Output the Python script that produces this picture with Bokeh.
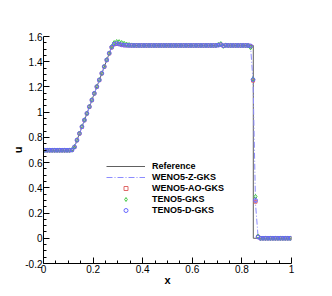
from bokeh.plotting import figure
from bokeh.models import Legend, LegendItem, FixedTicker
from bokeh.embed import file_html
from bokeh.resources import INLINE

# cell centres
x = [0.005, 0.015, 0.025, 0.035, 0.045, 0.055, 0.065, 0.075, 0.085, 0.095,
     0.105, 0.115, 0.125, 0.135, 0.145, 0.155, 0.165, 0.175, 0.185, 0.195,
     0.205, 0.215, 0.225, 0.235, 0.245, 0.255, 0.265, 0.275, 0.285, 0.295,
     0.305, 0.315, 0.325, 0.335, 0.345, 0.355, 0.365, 0.375, 0.385, 0.395,
     0.405, 0.415, 0.425, 0.435, 0.445, 0.455, 0.465, 0.475, 0.485, 0.495,
     0.505, 0.515, 0.525, 0.535, 0.545, 0.555, 0.565, 0.575, 0.585, 0.595,
     0.605, 0.615, 0.625, 0.635, 0.645, 0.655, 0.665, 0.675, 0.685, 0.695,
     0.705, 0.715, 0.725, 0.735, 0.745, 0.755, 0.765, 0.775, 0.785, 0.795,
     0.805, 0.815, 0.825, 0.835, 0.845, 0.855, 0.865, 0.875, 0.885, 0.895,
     0.905, 0.915, 0.925, 0.935, 0.945, 0.955, 0.965, 0.975, 0.985, 0.995]

ref_x = [0.0, 0.12, 0.277, 0.846, 0.846, 1.0]
ref_u = [0.698, 0.698, 1.529, 1.529, 0.0, 0.0]

u_wenoz = ([0.698] * 10 +
           [0.698, 0.700, 0.722, 0.776, 0.829, 0.882, 0.935, 0.988, 1.041, 1.094] +
           [1.147, 1.200, 1.253, 1.306, 1.359, 1.412, 1.465, 1.512, 1.537, 1.543] +
           [1.539, 1.533, 1.530, 1.529, 1.529, 1.529, 1.529, 1.529, 1.529, 1.529] +
           [1.529] * 30 +
           [1.532, 1.536, 1.526, 1.530, 1.529, 1.529, 1.529, 1.529, 1.529, 1.529] +
           [1.529, 1.529, 1.529, 1.520, 1.240, 0.270, 0.020, 0.0, 0.0, 0.0] +
           [0.0] * 10)

u_wenoao = ([0.698] * 10 +
            [0.698, 0.700, 0.723, 0.777, 0.830, 0.883, 0.936, 0.989, 1.042, 1.095] +
            [1.148, 1.201, 1.254, 1.307, 1.360, 1.413, 1.466, 1.513, 1.538, 1.544] +
            [1.540, 1.534, 1.531, 1.530, 1.529, 1.529, 1.529, 1.529, 1.529, 1.529] +
            [1.529] * 30 +
            [1.532, 1.537, 1.526, 1.530, 1.529, 1.529, 1.529, 1.529, 1.529, 1.529] +
            [1.529, 1.529, 1.529, 1.523, 1.250, 0.290, 0.012, 0.0, 0.0, 0.0] +
            [0.0] * 10)

u_teno = ([0.698] * 10 +
          [0.698, 0.701, 0.726, 0.779, 0.832, 0.885, 0.938, 0.991, 1.044, 1.097] +
          [1.150, 1.203, 1.256, 1.309, 1.362, 1.415, 1.468, 1.519, 1.550, 1.558] +
          [1.557, 1.550, 1.544, 1.538, 1.534, 1.531, 1.530, 1.529, 1.529, 1.529] +
          [1.529] * 30 +
          [1.535, 1.542, 1.524, 1.531, 1.529, 1.529, 1.529, 1.529, 1.529, 1.529] +
          [1.529, 1.529, 1.527, 1.512, 1.262, 0.330, 0.015, 0.0, 0.0, 0.0] +
          [0.0] * 10)

u_tenod = ([0.698] * 10 +
           [0.698, 0.700, 0.724, 0.778, 0.831, 0.884, 0.937, 0.990, 1.043, 1.096] +
           [1.149, 1.202, 1.255, 1.308, 1.361, 1.414, 1.467, 1.515, 1.540, 1.545] +
           [1.540, 1.534, 1.531, 1.530, 1.529, 1.529, 1.529, 1.529, 1.529, 1.529] +
           [1.529] * 30 +
           [1.531, 1.535, 1.527, 1.530, 1.529, 1.529, 1.529, 1.529, 1.529, 1.529] +
           [1.529, 1.529, 1.529, 1.525, 1.258, 0.300, 0.010, 0.0, 0.0, 0.0] +
           [0.0] * 10)

series_names = ["Reference", "WENO5-Z-GKS", "WENO5-AO-GKS", "TENO5-GKS", "TENO5-D-GKS"]

x_ticks = [0, 0.2, 0.4, 0.6, 0.8, 1]
x_tick_labels = ["0", "0.2", "0.4", "0.6", "0.8", "1"]
x_minor = [0.05, 0.1, 0.15, 0.25, 0.3, 0.35, 0.45, 0.5, 0.55, 0.65, 0.7, 0.75, 0.85, 0.9, 0.95]
y_ticks = [-0.2, 0, 0.2, 0.4, 0.6, 0.8, 1, 1.2, 1.4, 1.6]
y_tick_labels = ["-0.2", "0", "0.2", "0.4", "0.6", "0.8", "1", "1.2", "1.4", "1.6"]
y_minor = [-0.15, -0.1, -0.05, 0.05, 0.1, 0.15, 0.25, 0.3, 0.35, 0.45, 0.5, 0.55,
           0.65, 0.7, 0.75, 0.85, 0.9, 0.95, 1.05, 1.1, 1.15, 1.25, 1.3, 1.35,
           1.45, 1.5, 1.55]

FONT = "Liberation Sans"

p = figure(width=332, height=296, x_range=(0, 1), y_range=(-0.2, 1.6),
           output_backend="svg", toolbar_location=None,
           min_border_left=43, min_border_right=41, min_border_top=36, min_border_bottom=33)
p.outline_line_color = None
p.grid.visible = False
p.background_fill_color = "white"
p.border_fill_color = "white"

for ax, ticks, labels, minor in ((p.xaxis[0], x_ticks, x_tick_labels, x_minor),
                                 (p.yaxis[0], y_ticks, y_tick_labels, y_minor)):
    ax.ticker = FixedTicker(ticks=ticks, minor_ticks=minor)
    ax.major_label_overrides = {float(t): l for t, l in zip(ticks, labels)}
    ax.major_tick_in = 6
    ax.major_tick_out = 0
    ax.minor_tick_in = 3
    ax.minor_tick_out = 0
    ax.axis_line_color = "black"
    ax.major_tick_line_color = "black"
    ax.minor_tick_line_color = "black"
    ax.major_label_text_font = FONT
    ax.major_label_text_font_size = "10px"
    ax.major_label_text_color = "black"
    ax.major_label_standoff = 1
    ax.axis_label_text_font = FONT
    ax.axis_label_text_font_style = "bold"
    ax.axis_label_text_font_size = "11px"
    ax.axis_label_text_color = "black"
    ax.axis_label_standoff = -2

p.xaxis.axis_label = "x"
p.yaxis.axis_label = "u"

r_ref = p.line(ref_x, ref_u, line_color="#606060", line_width=1)
r_z = p.line(x, u_wenoz, line_color="#8c8cff", line_width=1, line_dash="6 2 1 2")
r_ao = p.scatter(x, u_wenoao, marker="square", size=3, fill_color=None,
                 line_color="#e06868", line_width=1)
r_teno = p.scatter(x, u_teno, marker="diamond", size=4.5, fill_color=None,
                   line_color="#44c844", line_width=1)
r_tenod = p.scatter(x, u_tenod, marker="circle", size=3.8, fill_color=None,
                    line_color="#6666ff", line_width=1)

legend = Legend(items=[LegendItem(label=n, renderers=[r])
                       for n, r in zip(series_names, [r_ref, r_z, r_ao, r_teno, r_tenod])],
                location=(63, 48), padding=0, margin=0, spacing=1,
                glyph_width=39, glyph_height=10, label_height=10, label_standoff=7,
                border_line_color=None, background_fill_alpha=0,
                label_text_font=FONT, label_text_font_style="bold",
                label_text_font_size="9px", label_text_color="black")
p.add_layout(legend)

open("out.html", "w").write(file_html(p, INLINE))
